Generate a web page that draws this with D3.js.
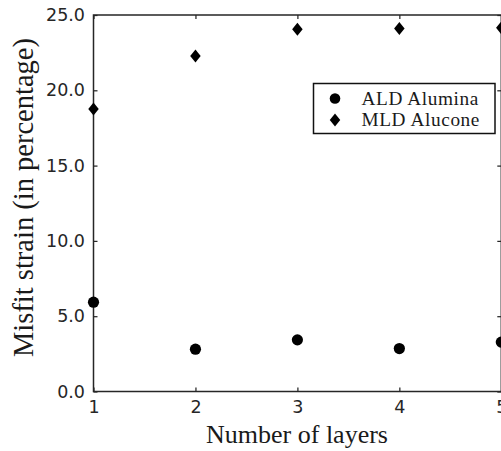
<!DOCTYPE html>
<html>
<head>
<meta charset="utf-8">
<script src="https://cdn.jsdelivr.net/npm/d3@7"></script>
<style>
  html, body { margin: 0; padding: 0; background: #fff; overflow: hidden; }
  svg { display: block; }
</style>
</head>
<body>
<svg id="chart" width="501" height="451"></svg>
<script>
// Misfit strain per number of deposited layers
const layers = [1, 2, 3, 4, 5];
const aluminaStrain = [5.93, 2.81, 3.43, 2.85, 3.28];
const aluconeStrain = [18.76, 22.28, 24.05, 24.1, 24.15];
const seriesNames = ["ALD Alumina", "MLD Alucone"];
const yTicks = [0, 5, 10, 15, 20, 25];
const xLabel = "Number of layers";
const yLabel = "Misfit strain (in percentage)";

const svg = d3.select("#chart");
const plotLeft = 93.5, plotRight = 501.3, plotTop = 15, plotBottom = 391.5;
const axisColor = "#262626";
const textColor = "#1a1a1a";
const tickFont = "DejaVu Sans";
const labelFont = "'Liberation Serif', 'Times New Roman', serif";

const x = d3.scaleLinear().domain([1, 5]).range([plotLeft, plotRight]);
const y = d3.scaleLinear().domain([0, 25]).range([plotBottom, plotTop]);

function styleAxis(g) {
  g.select(".domain").remove();
  g.selectAll(".tick line").attr("stroke", axisColor).attr("stroke-width", 1.25);
  g.selectAll(".tick text")
    .attr("fill", axisColor)
    .style("font-family", tickFont)
    .style("font-size", "17.5px");
}

// bottom axis with labels, ticks pointing inward
svg.append("g")
  .attr("transform", `translate(0,${plotBottom})`)
  .call(d3.axisBottom(x).tickValues(layers).tickFormat(d3.format("d"))
    .tickSizeInner(-4).tickSizeOuter(0).tickPadding(9))
  .call(styleAxis);

// top axis, ticks only
svg.append("g")
  .attr("transform", `translate(0,${plotTop})`)
  .call(d3.axisTop(x).tickValues(layers).tickFormat("")
    .tickSizeInner(-4).tickSizeOuter(0))
  .call(styleAxis);

// left axis with labels
svg.append("g")
  .attr("transform", `translate(${plotLeft},0)`)
  .call(d3.axisLeft(y).tickValues(yTicks).tickFormat(d3.format(".1f"))
    .tickSizeInner(-4).tickSizeOuter(0).tickPadding(8.5))
  .call(styleAxis);

// right axis, ticks only
svg.append("g")
  .attr("transform", `translate(${plotRight},0)`)
  .call(d3.axisRight(y).tickValues(yTicks).tickFormat("")
    .tickSizeInner(-4).tickSizeOuter(0))
  .call(styleAxis);

// plot frame
svg.append("rect")
  .attr("x", plotLeft).attr("y", plotTop)
  .attr("width", plotRight - plotLeft).attr("height", plotBottom - plotTop)
  .attr("fill", "none")
  .attr("stroke", axisColor)
  .attr("stroke-width", 1.5);

// markers
const circleSym = d3.symbol().type(d3.symbolCircle).size(Math.PI * 5.6 * 5.6);
const diamondPath = (w, h) => `M0,${-h / 2}L${w / 2},0L0,${h / 2}L${-w / 2},0Z`;

svg.append("g").selectAll("path")
  .data(layers.map((l, i) => ({ l, v: aluminaStrain[i] })))
  .join("path")
  .attr("d", circleSym)
  .attr("transform", d => `translate(${x(d.l)},${y(d.v)})`)
  .attr("fill", "#000");

svg.append("g").selectAll("path")
  .data(layers.map((l, i) => ({ l, v: aluconeStrain[i] })))
  .join("path")
  .attr("d", diamondPath(10.5, 13))
  .attr("transform", d => `translate(${x(d.l)},${y(d.v)})`)
  .attr("fill", "#000");

// axis labels
svg.append("text")
  .attr("x", 297).attr("y", 443)
  .attr("text-anchor", "middle")
  .style("font-family", labelFont)
  .style("font-size", "26px")
  .attr("fill", textColor)
  .text(xLabel);

svg.append("text")
  .attr("transform", `translate(33,197.5) rotate(-90)`)
  .attr("text-anchor", "middle")
  .style("font-family", labelFont)
  .style("font-size", "28.5px")
  .attr("fill", textColor)
  .text(yLabel);

// legend
const legend = svg.append("g");
legend.append("rect")
  .attr("x", 313.5).attr("y", 83.5)
  .attr("width", 181.5).attr("height", 50)
  .attr("fill", "#fff")
  .attr("stroke", "#111")
  .attr("stroke-width", 1.5);

const rows = legend.selectAll("g.row")
  .data(seriesNames)
  .join("g")
  .attr("class", "row")
  .attr("transform", (d, i) => `translate(0,${98.5 + i * 21.5})`);

rows.append("path")
  .attr("d", (d, i) => i === 0
    ? d3.symbol().type(d3.symbolCircle).size(Math.PI * 5.3 * 5.3)()
    : diamondPath(10.5, 13))
  .attr("transform", "translate(335,0)")
  .attr("fill", "#000");

rows.append("text")
  .attr("x", 361.5).attr("y", 6)
  .style("font-family", labelFont)
  .style("font-size", "19.3px")
  .style("letter-spacing", "0.6px")
  .attr("fill", textColor)
  .text(d => d);
</script>
</body>
</html>
